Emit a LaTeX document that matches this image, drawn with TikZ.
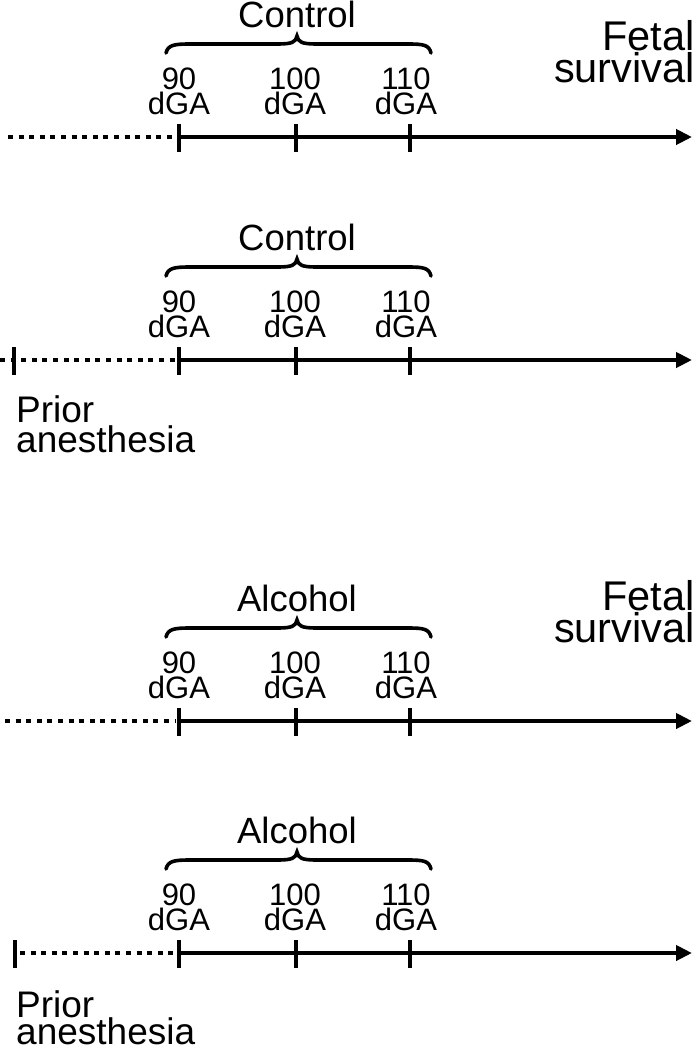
\documentclass[tikz,border=0pt]{standalone}
\usepackage{fontspec}
\setmainfont{Liberation Sans}
\usetikzlibrary{arrows.meta}
\tikzset{
  ax/.style={line width=4.5pt, -{Triangle[length=16pt,width=15pt]}},
  solidseg/.style={line width=4.5pt},
  dotseg/.style={line width=4.5pt, dash pattern=on 5pt off 5.6pt},
  tickmark/.style={line width=4.5pt},
  brc/.style={line width=3.6pt, line cap=round},
  txt/.style={inner sep=0pt, text height=0.73em, text depth=0pt},
  lab/.style={txt, font=\fontsize{31}{31}\selectfont, anchor=base},
  grp/.style={txt, font=\fontsize{36.5}{36.5}\selectfont, anchor=base},
  fet/.style={txt, font=\fontsize{41.5}{41.5}\selectfont, anchor=base east},
  pri/.style={txt, font=\fontsize{37}{37}\selectfont, anchor=base west},
}
\newcommand{\mypanel}[4]{%
  % #1 = prefix, #2 = axis y, #3 = group label, #4 = dotted start x
  \coordinate (#1t0) at (179,#2);
  \coordinate (#1t1) at (296,#2);
  \coordinate (#1t2) at (410,#2);
  \coordinate (#1end) at (692,#2);
  \coordinate (#1ds) at (#4,#2);
  \draw[dotseg] (#1ds) -- ([xshift=-3pt]#1t0);
  \draw[solidseg] (#1t0) -- (#1t1) -- (#1t2);
  \draw[ax] (#1t2) -- (#1end);
  \foreach \k in {0,1,2} {\draw[tickmark] ([yshift=13pt]#1t\k) -- ([yshift=-15pt]#1t\k);}
  \node[lab] (#1a) at (179,#2-48) {90};
  \node[lab] (#1b) at (179,#2-23) {dGA};
  \node[lab] (#1c) at (295,#2-48) {100};
  \node[lab] (#1d) at (295,#2-23) {dGA};
  \node[lab] (#1e) at (406,#2-48) {110};
  \node[lab] (#1f) at (406,#2-23) {dGA};
  \draw[brc] (166,#2-84) .. controls (168,#2-92) and (174,#2-93) .. (190,#2-93)
     -- (278,#2-93) .. controls (292,#2-93) and (296,#2-95) .. (297,#2-101)
     .. controls (298,#2-95) and (302,#2-93) .. (316,#2-93)
     -- (408,#2-93) .. controls (424,#2-93) and (429,#2-92) .. (431,#2-84);
  \node[grp] (#1g) at (297,#2-110) {#3};
}
\begin{document}
\begin{tikzpicture}[x=1pt,y=-1pt]
\useasboundingbox (0,0) rectangle (696,1050);
% panel 1
\mypanel{p}{137}{Control}{8}
\node[fet] (pfa) at (695,50) {Fetal};
\node[fet] (pfb) at (695,82) {survival};
% panel 2
\mypanel{q}{360}{Control}{0}
\coordinate (qpr) at (14,360);
\draw[tickmark] ([yshift=13pt]qpr) -- ([yshift=-15pt]qpr);
\node[pri] (qpa) at (16,422) {Prior};
\node[pri] (qpb) at (16,452) {anesthesia};
% panel 3
\mypanel{r}{721}{Alcohol}{5}
\node[fet] (rfa) at (695,610) {Fetal};
\node[fet] (rfb) at (695,642) {survival};
% panel 4
\mypanel{s}{953}{Alcohol}{20}
\coordinate (spr) at (15,953);
\draw[tickmark] ([yshift=13pt]spr) -- ([yshift=-15pt]spr);
\node[pri] (spa) at (16,1017) {Prior};
\node[pri] (spb) at (16,1044) {anesthesia};
\end{tikzpicture}
\end{document}
